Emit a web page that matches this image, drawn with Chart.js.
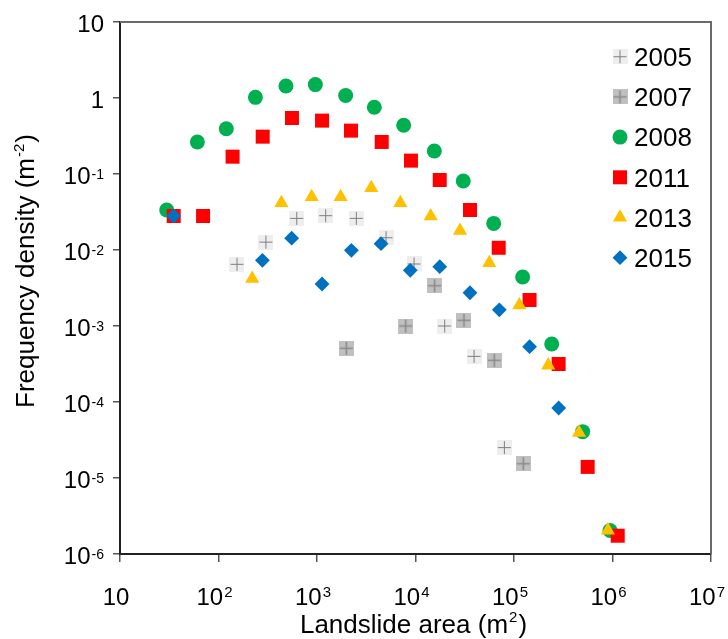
<!DOCTYPE html>
<html>
<head>
<meta charset="utf-8">
<script src="https://cdn.jsdelivr.net/npm/chart.js@4.4.1/dist/chart.umd.min.js"></script>
<style>
  body { margin: 0; background: #fff; }
  #wrap { width: 728px; height: 639px; }
</style>
</head>
<body>
<div id="wrap"><canvas id="chart" width="728" height="639"></canvas></div>
<script>
// series: landslide area (m2) vs frequency density (m-2)
const years = ['2005', '2007', '2008', '2011', '2013', '2015'];

const area2005 = [154, 303, 622, 1225, 2506, 5023, 9661, 19770, 39260, 79800];
const dens2005 = [0.00649, 0.0127, 0.0261, 0.0283, 0.0261, 0.0145, 0.00655, 0.001, 0.000399, 2.51e-5];

const area2007 = [1986, 7943, 15630, 31050, 63100, 124200];
const dens2007 = [0.000509, 0.001, 0.00339, 0.00119, 0.000354, 1.54e-5];

const area2008 = [29.8, 61, 120, 237, 484, 962, 1954, 3819, 7586, 15520, 30550, 62230, 122400, 241500, 497700, 944000];
const dens2008 = [0.0336, 0.264, 0.394, 1.02, 1.44, 1.5, 1.08, 0.755, 0.438, 0.201, 0.0809, 0.0224, 0.00442, 0.00058, 4.07e-5, 2.04e-6];

const area2011 = [35.1, 69.7, 139, 281, 557, 1125, 2213, 4539, 8995, 17620, 35730, 69980, 143900, 283800, 559800, 1130000];
const dens2011 = [0.028, 0.028, 0.169, 0.31, 0.546, 0.504, 0.372, 0.264, 0.15, 0.0834, 0.0336, 0.0107, 0.0022, 0.000316, 1.4e-5, 1.74e-6];

const area2013 = [220, 435, 883, 1738, 3556, 7015, 14260, 28310, 56100, 113200, 222800, 457100, 899500];
const dens2013 = [0.0042, 0.0416, 0.0499, 0.0499, 0.0655, 0.0416, 0.0278, 0.018, 0.00675, 0.00188, 0.000304, 3.95e-5, 2.05e-6];

const area2015 = [35.1, 279, 553, 1125, 2234, 4467, 8851, 17620, 35730, 70960, 143900, 284400];
const dens2015 = [0.028, 0.00731, 0.0143, 0.00357, 0.00991, 0.0121, 0.0054, 0.00604, 0.00274, 0.00163, 0.000535, 8.34e-5];

const xTicks = [10, 1e2, 1e3, 1e4, 1e5, 1e6, 1e7];
const xTickLabels = [['10', ''], ['10', '2'], ['10', '3'], ['10', '4'], ['10', '5'], ['10', '6'], ['10', '7']];
const yTicks = [1e-6, 1e-5, 1e-4, 1e-3, 1e-2, 1e-1, 1, 10];
const yTickLabels = [['10', '-6'], ['10', '-5'], ['10', '-4'], ['10', '-3'], ['10', '-2'], ['10', '-1'], ['1', ''], ['10', '']];

const FONT = '"Liberation Sans", Arial, sans-serif';

// little marker images for the two "plus on a square" series
function plusMarker(fill, line, lw) {
  const c = document.createElement('canvas');
  c.width = 15; c.height = 15;
  const g = c.getContext('2d');
  g.fillStyle = fill;
  g.fillRect(0, 0, 15, 15);
  g.strokeStyle = line;
  g.lineWidth = lw;
  g.beginPath();
  g.moveTo(7.5, 1); g.lineTo(7.5, 14);
  g.moveTo(1, 7.5); g.lineTo(14, 7.5);
  g.stroke();
  return c;
}
const mark2005 = plusMarker('#eeeeee', '#7f7f7f', 1);
const mark2007 = plusMarker('#c0c0c0', '#8a8a8a', 1.6);

function pts(xs, ys) {
  return xs.map((x, i) => ({ x: x, y: ys[i] }));
}

const styles = [
  { style: mark2005, color: '#eeeeee', r: 7.5 },
  { style: mark2007, color: '#c0c0c0', r: 7.5 },
  { style: 'circle', color: '#00b050', r: 7.5 },
  { style: 'rect', color: '#ff0000', r: 9.9 },
  { style: 'triangle', color: '#ffc000', r: 8.2 },
  { style: 'rectRot', color: '#0070c0', r: 7.4 }
];
const seriesData = [
  pts(area2005, dens2005), pts(area2007, dens2007), pts(area2008, dens2008),
  pts(area2011, dens2011), pts(area2013, dens2013), pts(area2015, dens2015)
];

const datasets = years.map((y, i) => ({
  label: y,
  data: seriesData[i],
  pointStyle: styles[i].style,
  pointRadius: styles[i].r,
  pointBackgroundColor: styles[i].color,
  pointBorderColor: styles[i].color,
  pointBorderWidth: 0,
  showLine: false,
  order: years.length - i // later years drawn on top, like the original
}));

// text with a raised superscript part, returns the full width
function supText(ctx, base, sup, x, y, align, size, supSize, raise, tail) {
  ctx.font = size + 'px ' + FONT;
  const wb = ctx.measureText(base).width;
  const wt = tail ? ctx.measureText(tail).width + 1 : 0;
  ctx.font = supSize + 'px ' + FONT;
  const ws = sup ? ctx.measureText(sup).width + 1 : 0;
  const total = wb + ws + wt;
  let left = x;
  if (align === 'right') left = x - total;
  if (align === 'center') left = x - total / 2;
  ctx.textAlign = 'left';
  ctx.textBaseline = 'alphabetic';
  ctx.font = size + 'px ' + FONT;
  ctx.fillText(base, left, y);
  if (sup) {
    ctx.font = supSize + 'px ' + FONT;
    ctx.fillText(sup, left + wb + 1, y - raise);
  }
  if (tail) {
    ctx.font = size + 'px ' + FONT;
    ctx.fillText(tail, left + wb + ws + 1, y);
  }
}

const decorations = {
  id: 'decorations',
  afterDraw(chart) {
    const ctx = chart.ctx;
    const a = chart.chartArea;
    const xs = chart.scales.x, ys = chart.scales.y;
    ctx.save();

    // top and right frame
    ctx.strokeStyle = '#6a6a6a';
    ctx.lineWidth = 2;
    ctx.beginPath();
    ctx.moveTo(a.left, a.top); ctx.lineTo(a.right, a.top); ctx.lineTo(a.right, a.bottom);
    ctx.stroke();

    ctx.fillStyle = '#000';
    // y tick labels
    yTicks.forEach((v, i) => {
      const py = ys.getPixelForValue(v);
      supText(ctx, yTickLabels[i][0], yTickLabels[i][1], 104, py + 9.6, 'right', 24, 14, 4.5);
    });
    // x tick labels
    xTicks.forEach((v, i) => {
      const px = xs.getPixelForValue(v);
      supText(ctx, xTickLabels[i][0], xTickLabels[i][1], px - 4, 605, 'center', 24, 15, 8);
    });

    // axis titles
    supText(ctx, 'Landslide area (m', '2', (a.left + a.right) / 2 - 2, 633, 'center', 26, 15, 11, ')');

    ctx.save();
    ctx.translate(34, 271);
    ctx.rotate(-Math.PI / 2);
    supText(ctx, 'Frequency density (m', '-2', 0, 0, 'center', 26, 15, 10, ')');
    ctx.restore();

    // legend
    years.forEach((y, i) => {
      const cy = 56.7 + i * 40.2;
      const st = styles[i];
      ctx.fillStyle = st.color;
      ctx.strokeStyle = st.color;
      ctx.lineWidth = 0;
      Chart.helpers.drawPoint(ctx, { pointStyle: st.style, radius: st.r, borderWidth: 0, rotation: 0 }, 620, cy);
      ctx.fillStyle = '#000';
      ctx.font = '26px ' + FONT;
      ctx.textAlign = 'left';
      ctx.textBaseline = 'alphabetic';
      ctx.fillText(y, 634, cy + 9.3);
    });
    ctx.restore();
  }
};

new Chart(document.getElementById('chart'), {
  type: 'scatter',
  data: { datasets: datasets },
  options: {
    responsive: false,
    animation: false,
    events: [],
    layout: { padding: { top: 22, right: 17, left: 0, bottom: 0 } },
    plugins: { legend: { display: false }, tooltip: { enabled: false } },
    scales: {
      x: {
        type: 'logarithmic',
        min: 10,
        max: 1e7,
        afterBuildTicks: (s) => { s.ticks = xTicks.map(v => ({ value: v })); },
        afterFit: (s) => { s.height = 85; },
        ticks: { display: false },
        grid: { drawOnChartArea: false, drawTicks: true, tickLength: 8, color: '#555', lineWidth: 1.5 },
        border: { display: true, color: '#222', width: 2 }
      },
      y: {
        type: 'logarithmic',
        min: 1e-6,
        max: 10,
        afterBuildTicks: (s) => { s.ticks = yTicks.map(v => ({ value: v })); },
        afterFit: (s) => { s.width = 120; },
        ticks: { display: false },
        grid: { drawOnChartArea: false, drawTicks: true, tickLength: 7, color: '#555', lineWidth: 1.5 },
        border: { display: true, color: '#222', width: 2 }
      }
    }
  },
  plugins: [decorations]
});
</script>
</body>
</html>
